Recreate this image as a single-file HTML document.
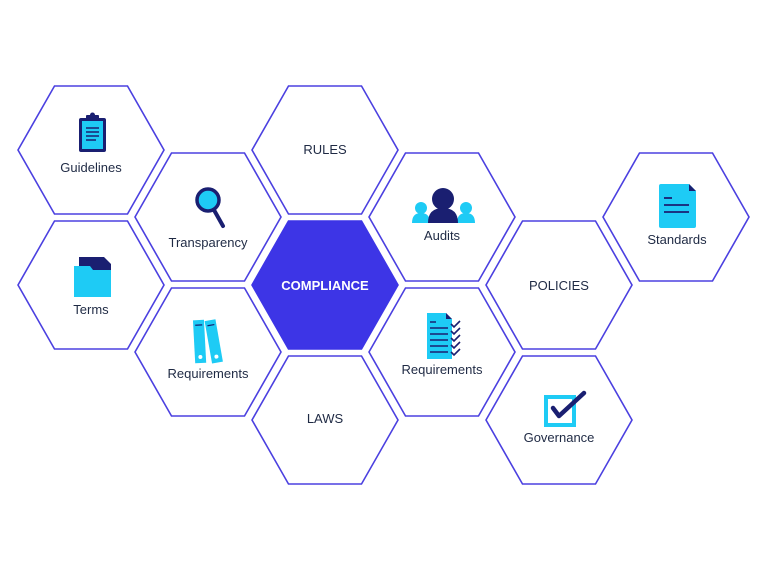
<!DOCTYPE html>
<html><head><meta charset="utf-8"><style>
html,body{margin:0;padding:0;background:#fff;}
svg{display:block;}
text{font-family:"Liberation Sans",sans-serif;font-size:13px;fill:#1f2a44;text-anchor:middle;}
</style></head><body>
<svg width="766" height="570" viewBox="0 0 766 570" xmlns="http://www.w3.org/2000/svg">
<defs>
<polygon id="hx" points="-73,0 -36.5,-64 36.5,-64 73,0 36.5,64 -36.5,64"/>
</defs>
<g fill="#fff" stroke="#4b40e0" stroke-width="1.6">
<use href="#hx" x="91" y="150"/>
<use href="#hx" x="91" y="285"/>
<use href="#hx" x="208" y="217"/>
<use href="#hx" x="208" y="352"/>
<use href="#hx" x="325" y="150"/>
<use href="#hx" x="325" y="420"/>
<use href="#hx" x="442" y="217"/>
<use href="#hx" x="442" y="352"/>
<use href="#hx" x="559" y="285"/>
<use href="#hx" x="559" y="420"/>
<use href="#hx" x="676" y="217"/>
</g>
<use href="#hx" x="325" y="285" fill="#3d35e6" stroke="#3d35e6" stroke-width="1.6"/>

<!-- Guidelines clipboard -->
<rect x="79" y="118" width="27" height="34" rx="2" fill="#1a1f71"/>
<rect x="82" y="121" width="21" height="28" fill="#1ecbf5"/>
<rect x="86" y="115" width="13" height="5" rx="1" fill="#1a1f71"/>
<circle cx="92.5" cy="115" r="2.5" fill="#1a1f71"/>
<g stroke="#1a1f71" stroke-width="1.5"><line x1="86" y1="128" x2="99" y2="128"/><line x1="86" y1="132" x2="99" y2="132"/><line x1="86" y1="136" x2="99" y2="136"/><line x1="86" y1="140" x2="96" y2="140"/></g>
<text x="91" y="172">Guidelines</text>

<!-- Transparency magnifier -->
<line x1="214" y1="210" x2="223" y2="226" stroke="#1a1f71" stroke-width="4" stroke-linecap="round"/>
<circle cx="208" cy="200" r="11" fill="#1ecbf5" stroke="#1a1f71" stroke-width="3.5"/>
<text x="208" y="247">Transparency</text>

<!-- Terms folder -->
<path d="M79 257 H104 L111 264 V295 H79 Z" fill="#1a1f71"/>
<path d="M74 266 H90 L93 270 H111 V297 H74 Z" fill="#1ecbf5"/>
<text x="91" y="314">Terms</text>

<!-- Left requirements binders -->
<g transform="rotate(-3 200 340)"><rect x="194" y="320" width="11" height="43" fill="#1ecbf5"/><line x1="196" y1="325" x2="203" y2="325" stroke="#1a1f71" stroke-width="1.2"/><circle cx="199.5" cy="357" r="2" fill="#fff"/></g>
<g transform="rotate(-10 213 340)"><rect x="208" y="320" width="11" height="43" fill="#1ecbf5"/><line x1="210" y1="325" x2="217" y2="325" stroke="#1a1f71" stroke-width="1.2"/><circle cx="213.5" cy="357" r="2" fill="#fff"/></g>
<text x="208" y="378">Requirements</text>

<!-- RULES, COMPLIANCE, LAWS, POLICIES -->
<text x="325" y="154">RULES</text>
<text x="325" y="290" style="fill:#fff;font-weight:bold">COMPLIANCE</text>
<text x="325" y="423">LAWS</text>
<text x="559" y="290">POLICIES</text>

<!-- Audits -->
<circle cx="421" cy="208" r="6" fill="#1ecbf5"/><path d="M412 223 Q412 213 421 213 Q430 213 430 223 Z" fill="#1ecbf5"/>
<circle cx="466" cy="208" r="6" fill="#1ecbf5"/><path d="M457 223 Q457 213 466 213 Q475 213 475 223 Z" fill="#1ecbf5"/>
<circle cx="443" cy="199" r="11" fill="#1a1f71"/>
<path d="M428 223 Q428 208 443 208 Q458 208 458 223 Z" fill="#1a1f71"/>
<text x="442" y="240">Audits</text>

<!-- Right requirements -->
<path d="M427 313 H446 L452 319 V359 H427 Z" fill="#1ecbf5"/>
<path d="M446 313 L452 319 H446 Z" fill="#1a1f71"/>
<g stroke="#1a1f71" stroke-width="1.5"><line x1="430" y1="322" x2="436" y2="322"/><line x1="430" y1="328" x2="448" y2="328"/><line x1="430" y1="334" x2="448" y2="334"/><line x1="430" y1="340" x2="448" y2="340"/><line x1="430" y1="346" x2="448" y2="346"/><line x1="430" y1="352" x2="448" y2="352"/></g>
<g fill="none" stroke="#1a1f71" stroke-width="1.6"><path d="M451 324 l3 3 l6 -6"/><path d="M451 331 l3 3 l6 -6"/><path d="M451 338 l3 3 l6 -6"/><path d="M451 345 l3 3 l6 -6"/><path d="M451 352 l3 3 l6 -6"/></g>
<text x="442" y="374">Requirements</text>

<!-- Governance -->
<rect x="546" y="397" width="28" height="28" fill="none" stroke="#1ecbf5" stroke-width="4"/>
<path d="M553 408 L559 416 L584 393" fill="none" stroke="#1a1f71" stroke-width="4.5" stroke-linecap="round" stroke-linejoin="round"/>
<text x="559" y="442">Governance</text>

<!-- Standards -->
<path d="M661 184 H689 L696 191 V226 Q696 228 694 228 H661 Q659 228 659 226 V186 Q659 184 661 184 Z" fill="#1ecbf5"/>
<path d="M689 184 L696 191 H689 Z" fill="#1a1f71"/>
<g stroke="#1a1f71" stroke-width="1.8"><line x1="664" y1="198" x2="672" y2="198"/><line x1="664" y1="205" x2="689" y2="205"/><line x1="664" y1="212" x2="689" y2="212"/></g>
<text x="677" y="244">Standards</text>
</svg>
</body></html>
